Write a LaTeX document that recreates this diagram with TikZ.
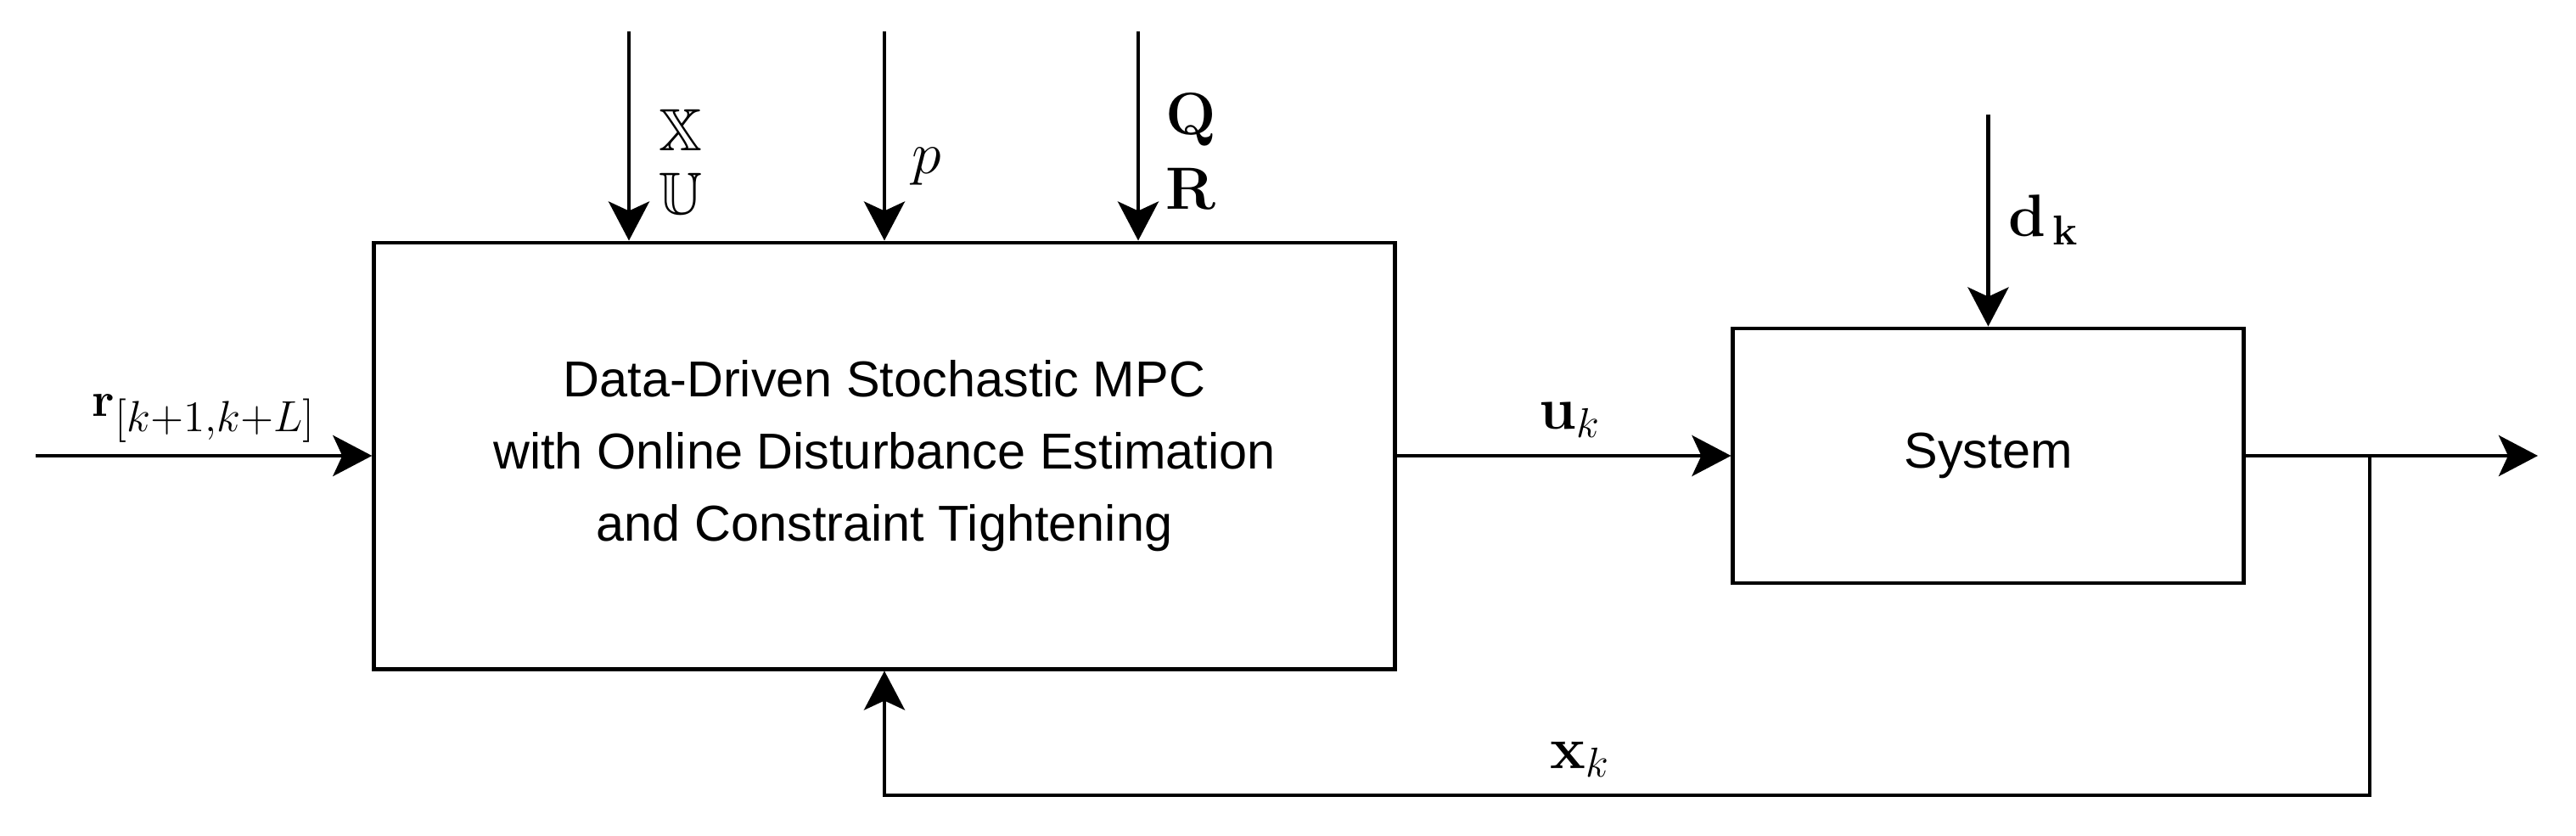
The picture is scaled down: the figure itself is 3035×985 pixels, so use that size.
\documentclass[tikz,border=0pt]{standalone}
\usepackage{fix-cm}
\usepackage{amssymb}
\usepackage[no-math]{fontspec}
\newfontfamily\arialfont{Liberation Sans}
\usetikzlibrary{arrows.meta}
\DeclareMathSizes{16.4}{16.4}{14.6}{11}
\tikzset{
  blk/.style={draw=black, line width=0.047cm, fill=white, inner sep=0pt,
    font=\arialfont\fontsize{16.9pt}{24.2pt}\selectfont, align=center},
  conn/.style={line width=0.047cm, -{Stealth[length=0.46cm,width=0.48cm,inset=0.11cm]}},
  lbl/.style={inner sep=0pt, anchor=base west, font=\fontsize{20pt}{24pt}\selectfont},
}
\begin{document}
\begin{tikzpicture}[x=0.01cm, y=-0.01cm]
  \useasboundingbox (0,0) rectangle (3035,985);
  \fill[white] (0,0) rectangle (3035,985);

  % blocks
  \node[blk, minimum width=12.02cm, minimum height=5.02cm] (mpc) at (1042,537)
    {Data-Driven Stochastic MPC\\with Online Disturbance Estimation\\and Constraint Tightening};
  \node[blk, minimum width=6.01cm, minimum height=3.0cm] (sys) at (2342.5,537) {System};

  % free ends
  \coordinate (rin) at (42,537);
  \coordinate (t1) at (741,37);
  \coordinate (t2) at (1042,37);
  \coordinate (t3) at (1341,37);
  \coordinate (din) at (2342.5,135);
  \coordinate (yout) at (2990,537);
  \coordinate (br) at (2792,537);
  \coordinate (fbc) at (2792,937);

  % connectors
  \draw[conn] (rin) -- (mpc.west);
  \draw[conn] (t1) -- (t1 |- mpc.north);
  \draw[conn] (t2) -- (t2 |- mpc.north);
  \draw[conn] (t3) -- (t3 |- mpc.north);
  \draw[conn] (mpc.east) -- (sys.west);
  \draw[conn] (din) -- (sys.north);
  \draw[conn] (sys.east) -- (yout);
  \draw[conn] (br) -- (fbc) -| (mpc.south);

  % labels
  \node[lbl, font=\fontsize{16.4pt}{19pt}\selectfont] (rlab) at (108,490) {$\mathbf{r}_{[k+1,k+L]}$};
  \node[lbl, anchor=north west, align=left, font=\fontsize{20pt}{21.3pt}\selectfont] (xulab) at (776,128) {$\mathbb{X}$\\$\mathbb{U}$};
  \node[lbl] (plab) at (1074,205) {$p$};
  \node[lbl, anchor=north west, align=left, font=\fontsize{20pt}{25pt}\selectfont] (qrlab) at (1373,110) {$\mathbf{Q}$\\$\mathbf{R}$};
  \node[lbl] (ulab) at (1813,505) {$\mathbf{u}_k$};
  \node[lbl] (xlab) at (1826,905) {$\mathbf{x}_k$};
  \node[lbl, font=\fontsize{20pt}{24pt}\selectfont] (dlab) at (2366,278) {$\mathbf{d}_{\,\mathbf{k}}$};
\end{tikzpicture}
\end{document}
